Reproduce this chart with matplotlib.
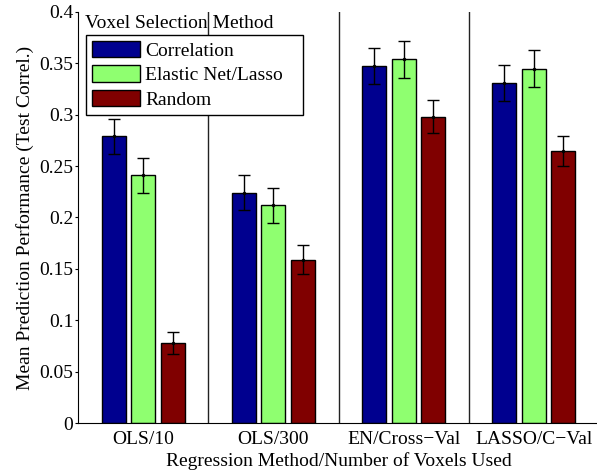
import matplotlib
matplotlib.use("Agg")
import matplotlib.pyplot as plt
import numpy as np

# mean test correlation per regression method, for each voxel selection method
methods = ["OLS/10", "OLS/300", "EN/Cross\u2212Val", "LASSO/C\u2212Val"]
selection = ["Correlation", "Elastic Net/Lasso", "Random"]
corr_mean = [0.279, 0.224, 0.347, 0.331]
enet_mean = [0.241, 0.212, 0.354, 0.345]
rand_mean = [0.078, 0.159, 0.298, 0.265]
corr_err = [0.017, 0.017, 0.0175, 0.0175]
enet_err = [0.017, 0.017, 0.018, 0.018]
rand_err = [0.0105, 0.014, 0.016, 0.0146]
colors = ["#00008f", "#8fff70", "#800000"]

plt.rcParams["font.family"] = ["Liberation Serif", "DejaVu Serif"]
plt.rcParams["font.size"] = 14

fig = plt.figure(figsize=(5.97, 4.72), dpi=100)
ax = fig.add_axes([78 / 597, 49 / 472, 521 / 597, 411 / 472])

x = np.arange(1, len(methods) + 1)
width = 0.184
offset = 0.226
handles = []
for i, (means, errs) in enumerate([(corr_mean, corr_err), (enet_mean, enet_err), (rand_mean, rand_err)]):
    pos = x + (i - 1) * offset
    bars = ax.bar(pos, means, width, color=colors[i], edgecolor="black", linewidth=1.0,
                  label=selection[i], zorder=2)
    ax.errorbar(pos, means, yerr=errs, fmt=".", color="black", ms=3, elinewidth=1.0,
                capsize=4, capthick=1.0, zorder=3)
    handles.append(bars)

# separators between regression methods
for sx in x[:-1] + 0.5:
    ax.plot([sx, sx], [0, 0.4], color="#222222", lw=1.0, zorder=1)

ax.set_xlim(0.5, 4.5)
ax.set_ylim(0, 0.4)
ax.set_xticks(x)
ax.set_xticklabels(methods)
ax.set_yticks(np.arange(0, 0.41, 0.05))
ax.set_yticklabels(["0", "0.05", "0.1", "0.15", "0.2", "0.25", "0.3", "0.35", "0.4"])
ax.tick_params(axis="x", length=0, pad=6)
ax.tick_params(axis="y", direction="out", length=2.5, width=0.8, pad=1)
ax.spines["top"].set_visible(False)
ax.spines["right"].set_visible(False)
ax.set_xlabel("Regression Method/Number of Voxels Used", labelpad=3)
ax.set_ylabel("Mean Prediction Performance (Test Correl.)", labelpad=4)

leg = ax.legend(handles=handles, loc="upper left", mode="expand",
                bbox_to_anchor=(86 / 597, 1 - 116 / 472, 217 / 597, 81 / 472),
                bbox_transform=fig.transFigure,
                borderaxespad=0, fancybox=False, edgecolor="black", framealpha=1,
                handlelength=2.5, handleheight=0.9, handletextpad=0.25,
                labelspacing=0.3, borderpad=0.3)
leg.get_frame().set_linewidth(1.0)
fig.text(85 / 597, 1 - 23 / 472, "Voxel Selection Method", va="center", ha="left")

fig.savefig("out.png", dpi=100)
